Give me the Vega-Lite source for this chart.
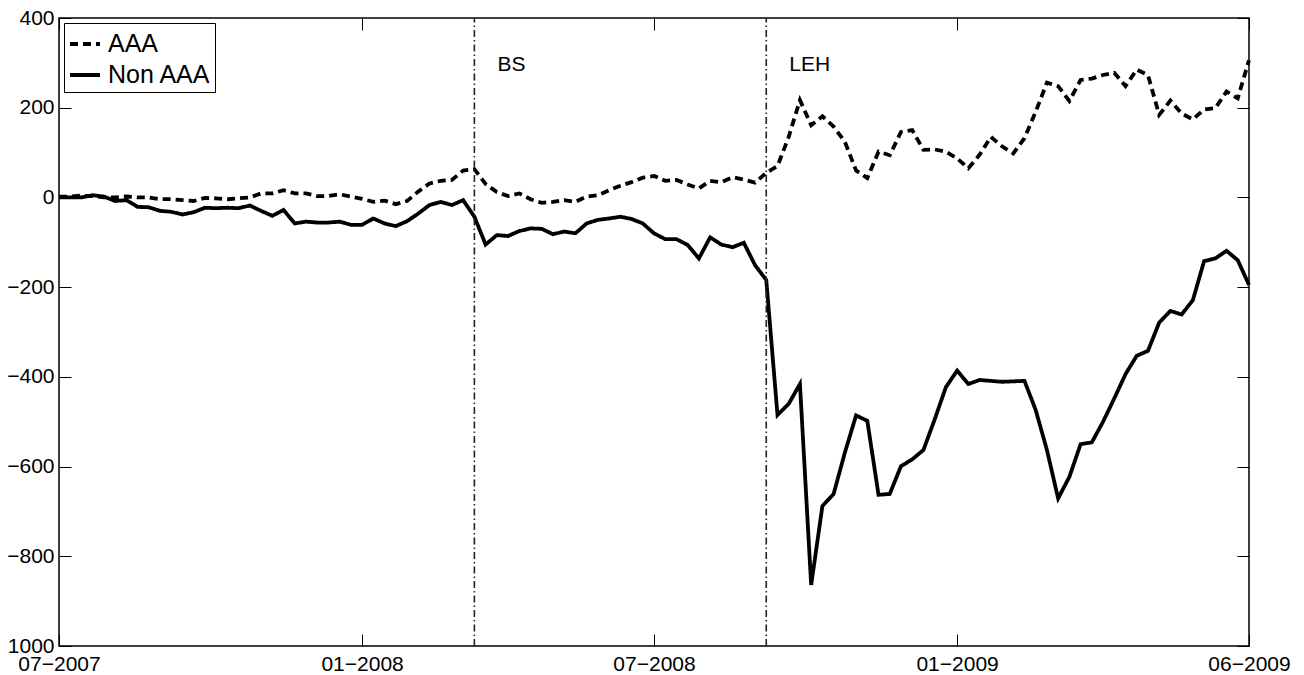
{
  "$schema": "https://vega.github.io/schema/vega-lite/v6.json",
  "width": 1190,
  "height": 628,
  "autosize": {"type": "none"},
  "padding": {"left": 59, "top": 18, "right": 55, "bottom": 29},
  "background": "white",
  "config": {
    "view": {"stroke": "black", "strokeWidth": 1.5},
    "font": "Liberation Sans",
    "axis": {
      "domain": false,
      "grid": false,
      "labelFont": "Liberation Sans",
      "labelFontSize": 21,
      "labelColor": "black",
      "tickColor": "black",
      "tickWidth": 1,
      "tickSize": -12,
      "title": null,
      "labelFlush": false,
      "labelOverlap": false
    },
    "legend": {
      "strokeColor": "black",
      "fillColor": "white",
      "strokeWidth": 1,
      "cornerRadius": 0,
      "padding": 4,
      "labelFont": "Liberation Sans",
      "labelFontSize": 25,
      "labelColor": "black",
      "labelOffset": 6,
      "rowPadding": 1,
      "symbolType": "stroke",
      "symbolSize": 900,
      "symbolStrokeWidth": 3.8,
      "symbolStrokeColor": "black"
    }
  },
  "datasets": {
    "spreads": [
      {"week": 0, "series": "AAA", "value": 2}, {"week": 1, "series": "AAA", "value": 2}, {"week": 2, "series": "AAA", "value": 4}, {"week": 3, "series": "AAA", "value": 3},
      {"week": 4, "series": "AAA", "value": 0}, {"week": 5, "series": "AAA", "value": 0}, {"week": 6, "series": "AAA", "value": 2}, {"week": 7, "series": "AAA", "value": 0},
      {"week": 8, "series": "AAA", "value": 0}, {"week": 9, "series": "AAA", "value": -4}, {"week": 10, "series": "AAA", "value": -4}, {"week": 11, "series": "AAA", "value": -6},
      {"week": 12, "series": "AAA", "value": -8}, {"week": 13, "series": "AAA", "value": -1}, {"week": 14, "series": "AAA", "value": -2}, {"week": 15, "series": "AAA", "value": -4},
      {"week": 16, "series": "AAA", "value": -2}, {"week": 17, "series": "AAA", "value": 0}, {"week": 18, "series": "AAA", "value": 9}, {"week": 19, "series": "AAA", "value": 9},
      {"week": 20, "series": "AAA", "value": 16}, {"week": 21, "series": "AAA", "value": 9}, {"week": 22, "series": "AAA", "value": 9}, {"week": 23, "series": "AAA", "value": 3},
      {"week": 24, "series": "AAA", "value": 3}, {"week": 25, "series": "AAA", "value": 7}, {"week": 26, "series": "AAA", "value": 2}, {"week": 27, "series": "AAA", "value": -3},
      {"week": 28, "series": "AAA", "value": -10}, {"week": 29, "series": "AAA", "value": -7}, {"week": 30, "series": "AAA", "value": -15}, {"week": 31, "series": "AAA", "value": -8},
      {"week": 32, "series": "AAA", "value": 13}, {"week": 33, "series": "AAA", "value": 31}, {"week": 34, "series": "AAA", "value": 37}, {"week": 35, "series": "AAA", "value": 39},
      {"week": 36, "series": "AAA", "value": 60}, {"week": 37, "series": "AAA", "value": 63}, {"week": 38, "series": "AAA", "value": 30}, {"week": 39, "series": "AAA", "value": 12},
      {"week": 40, "series": "AAA", "value": 3}, {"week": 41, "series": "AAA", "value": 9}, {"week": 42, "series": "AAA", "value": -4}, {"week": 43, "series": "AAA", "value": -12},
      {"week": 44, "series": "AAA", "value": -10}, {"week": 45, "series": "AAA", "value": -6}, {"week": 46, "series": "AAA", "value": -10}, {"week": 47, "series": "AAA", "value": 2},
      {"week": 48, "series": "AAA", "value": 5}, {"week": 49, "series": "AAA", "value": 16}, {"week": 50, "series": "AAA", "value": 26}, {"week": 51, "series": "AAA", "value": 34},
      {"week": 52, "series": "AAA", "value": 44}, {"week": 53, "series": "AAA", "value": 48}, {"week": 54, "series": "AAA", "value": 37}, {"week": 55, "series": "AAA", "value": 39},
      {"week": 56, "series": "AAA", "value": 29}, {"week": 57, "series": "AAA", "value": 20}, {"week": 58, "series": "AAA", "value": 37}, {"week": 59, "series": "AAA", "value": 34},
      {"week": 60, "series": "AAA", "value": 45}, {"week": 61, "series": "AAA", "value": 40}, {"week": 62, "series": "AAA", "value": 33}, {"week": 63, "series": "AAA", "value": 55},
      {"week": 64, "series": "AAA", "value": 70}, {"week": 65, "series": "AAA", "value": 135}, {"week": 66, "series": "AAA", "value": 217}, {"week": 67, "series": "AAA", "value": 161},
      {"week": 68, "series": "AAA", "value": 181}, {"week": 69, "series": "AAA", "value": 158}, {"week": 70, "series": "AAA", "value": 124}, {"week": 71, "series": "AAA", "value": 60},
      {"week": 72, "series": "AAA", "value": 43}, {"week": 73, "series": "AAA", "value": 102}, {"week": 74, "series": "AAA", "value": 94}, {"week": 75, "series": "AAA", "value": 146},
      {"week": 76, "series": "AAA", "value": 150}, {"week": 77, "series": "AAA", "value": 106}, {"week": 78, "series": "AAA", "value": 107}, {"week": 79, "series": "AAA", "value": 102},
      {"week": 80, "series": "AAA", "value": 87}, {"week": 81, "series": "AAA", "value": 65}, {"week": 82, "series": "AAA", "value": 95}, {"week": 83, "series": "AAA", "value": 135},
      {"week": 84, "series": "AAA", "value": 114}, {"week": 85, "series": "AAA", "value": 98}, {"week": 86, "series": "AAA", "value": 132}, {"week": 87, "series": "AAA", "value": 191},
      {"week": 88, "series": "AAA", "value": 256}, {"week": 89, "series": "AAA", "value": 248}, {"week": 90, "series": "AAA", "value": 215}, {"week": 91, "series": "AAA", "value": 262},
      {"week": 92, "series": "AAA", "value": 265}, {"week": 93, "series": "AAA", "value": 273}, {"week": 94, "series": "AAA", "value": 278}, {"week": 95, "series": "AAA", "value": 248},
      {"week": 96, "series": "AAA", "value": 285}, {"week": 97, "series": "AAA", "value": 273}, {"week": 98, "series": "AAA", "value": 184}, {"week": 99, "series": "AAA", "value": 216},
      {"week": 100, "series": "AAA", "value": 187}, {"week": 101, "series": "AAA", "value": 174}, {"week": 102, "series": "AAA", "value": 196}, {"week": 103, "series": "AAA", "value": 199},
      {"week": 104, "series": "AAA", "value": 236}, {"week": 105, "series": "AAA", "value": 221}, {"week": 106, "series": "AAA", "value": 306},

      {"week": 0, "series": "Non AAA", "value": 0}, {"week": 1, "series": "Non AAA", "value": 0}, {"week": 2, "series": "Non AAA", "value": 0}, {"week": 3, "series": "Non AAA", "value": 5},
      {"week": 4, "series": "Non AAA", "value": 2}, {"week": 5, "series": "Non AAA", "value": -8}, {"week": 6, "series": "Non AAA", "value": -6}, {"week": 7, "series": "Non AAA", "value": -21},
      {"week": 8, "series": "Non AAA", "value": -22}, {"week": 9, "series": "Non AAA", "value": -30}, {"week": 10, "series": "Non AAA", "value": -32}, {"week": 11, "series": "Non AAA", "value": -38},
      {"week": 12, "series": "Non AAA", "value": -33}, {"week": 13, "series": "Non AAA", "value": -23}, {"week": 14, "series": "Non AAA", "value": -24}, {"week": 15, "series": "Non AAA", "value": -23},
      {"week": 16, "series": "Non AAA", "value": -24}, {"week": 17, "series": "Non AAA", "value": -18}, {"week": 18, "series": "Non AAA", "value": -30}, {"week": 19, "series": "Non AAA", "value": -41},
      {"week": 20, "series": "Non AAA", "value": -28}, {"week": 21, "series": "Non AAA", "value": -58}, {"week": 22, "series": "Non AAA", "value": -54}, {"week": 23, "series": "Non AAA", "value": -56},
      {"week": 24, "series": "Non AAA", "value": -56}, {"week": 25, "series": "Non AAA", "value": -54}, {"week": 26, "series": "Non AAA", "value": -61}, {"week": 27, "series": "Non AAA", "value": -61},
      {"week": 28, "series": "Non AAA", "value": -47}, {"week": 29, "series": "Non AAA", "value": -58}, {"week": 30, "series": "Non AAA", "value": -64}, {"week": 31, "series": "Non AAA", "value": -53},
      {"week": 32, "series": "Non AAA", "value": -36}, {"week": 33, "series": "Non AAA", "value": -17}, {"week": 34, "series": "Non AAA", "value": -10}, {"week": 35, "series": "Non AAA", "value": -17},
      {"week": 36, "series": "Non AAA", "value": -6}, {"week": 37, "series": "Non AAA", "value": -43}, {"week": 38, "series": "Non AAA", "value": -105}, {"week": 39, "series": "Non AAA", "value": -84},
      {"week": 40, "series": "Non AAA", "value": -86}, {"week": 41, "series": "Non AAA", "value": -75}, {"week": 42, "series": "Non AAA", "value": -69}, {"week": 43, "series": "Non AAA", "value": -70},
      {"week": 44, "series": "Non AAA", "value": -82}, {"week": 45, "series": "Non AAA", "value": -76}, {"week": 46, "series": "Non AAA", "value": -80}, {"week": 47, "series": "Non AAA", "value": -58},
      {"week": 48, "series": "Non AAA", "value": -50}, {"week": 49, "series": "Non AAA", "value": -47}, {"week": 50, "series": "Non AAA", "value": -43}, {"week": 51, "series": "Non AAA", "value": -48},
      {"week": 52, "series": "Non AAA", "value": -58}, {"week": 53, "series": "Non AAA", "value": -80}, {"week": 54, "series": "Non AAA", "value": -93}, {"week": 55, "series": "Non AAA", "value": -93},
      {"week": 56, "series": "Non AAA", "value": -106}, {"week": 57, "series": "Non AAA", "value": -136}, {"week": 58, "series": "Non AAA", "value": -89}, {"week": 59, "series": "Non AAA", "value": -105},
      {"week": 60, "series": "Non AAA", "value": -111}, {"week": 61, "series": "Non AAA", "value": -101}, {"week": 62, "series": "Non AAA", "value": -151}, {"week": 63, "series": "Non AAA", "value": -184},
      {"week": 64, "series": "Non AAA", "value": -485}, {"week": 65, "series": "Non AAA", "value": -460}, {"week": 66, "series": "Non AAA", "value": -416}, {"week": 67, "series": "Non AAA", "value": -864},
      {"week": 68, "series": "Non AAA", "value": -688}, {"week": 69, "series": "Non AAA", "value": -661}, {"week": 70, "series": "Non AAA", "value": -569}, {"week": 71, "series": "Non AAA", "value": -486},
      {"week": 72, "series": "Non AAA", "value": -498}, {"week": 73, "series": "Non AAA", "value": -663}, {"week": 74, "series": "Non AAA", "value": -661}, {"week": 75, "series": "Non AAA", "value": -599},
      {"week": 76, "series": "Non AAA", "value": -584}, {"week": 77, "series": "Non AAA", "value": -563}, {"week": 78, "series": "Non AAA", "value": -495}, {"week": 79, "series": "Non AAA", "value": -423},
      {"week": 80, "series": "Non AAA", "value": -386}, {"week": 81, "series": "Non AAA", "value": -416}, {"week": 82, "series": "Non AAA", "value": -407}, {"week": 83, "series": "Non AAA", "value": -409},
      {"week": 84, "series": "Non AAA", "value": -411}, {"week": 85, "series": "Non AAA", "value": -410}, {"week": 86, "series": "Non AAA", "value": -409}, {"week": 87, "series": "Non AAA", "value": -474},
      {"week": 88, "series": "Non AAA", "value": -563}, {"week": 89, "series": "Non AAA", "value": -671}, {"week": 90, "series": "Non AAA", "value": -623}, {"week": 91, "series": "Non AAA", "value": -550},
      {"week": 92, "series": "Non AAA", "value": -546}, {"week": 93, "series": "Non AAA", "value": -500}, {"week": 94, "series": "Non AAA", "value": -448}, {"week": 95, "series": "Non AAA", "value": -394},
      {"week": 96, "series": "Non AAA", "value": -353}, {"week": 97, "series": "Non AAA", "value": -342}, {"week": 98, "series": "Non AAA", "value": -279}, {"week": 99, "series": "Non AAA", "value": -253},
      {"week": 100, "series": "Non AAA", "value": -261}, {"week": 101, "series": "Non AAA", "value": -229}, {"week": 102, "series": "Non AAA", "value": -142}, {"week": 103, "series": "Non AAA", "value": -136},
      {"week": 104, "series": "Non AAA", "value": -119}, {"week": 105, "series": "Non AAA", "value": -140}, {"week": 106, "series": "Non AAA", "value": -195}
    ],
    "events": [
      {"week": 37, "label": "BS"},
      {"week": 63, "label": "LEH"}
    ]
  },
  "resolve": {"axis": {"x": "independent", "y": "independent"}},
  "layer": [
    {
      "data": {"name": "spreads"},
      "mark": {"type": "line", "color": "black", "strokeWidth": 3.8, "strokeCap": "butt", "strokeJoin": "miter"},
      "encoding": {
        "x": {
          "field": "week", "type": "quantitative",
          "scale": {"domain": [0, 106], "nice": false, "zero": false},
          "axis": {
            "orient": "bottom",
            "values": [0, 27, 53, 80, 106],
            "labelPadding": 19,
            "labelExpr": "datum.value == 0 ? '07−2007' : datum.value == 27 ? '01−2008' : datum.value == 53 ? '07−2008' : datum.value == 80 ? '01−2009' : '06−2009'"
          }
        },
        "y": {
          "field": "value", "type": "quantitative",
          "scale": {"domain": [-1000, 400], "nice": false},
          "axis": {
            "orient": "left",
            "values": [-1000, -800, -600, -400, -200, 0, 200, 400],
            "labelPadding": 17,
            "labelExpr": "datum.value == -1000 ? '1000' : format(datum.value, 'd')"
          }
        },
        "strokeDash": {
          "field": "series", "type": "nominal",
          "scale": {"domain": ["AAA", "Non AAA"], "range": [[8, 5], [1, 0]]},
          "legend": {"title": null, "orient": "none", "legendX": 5, "legendY": 5}
        }
      }
    },
    {
      "data": {"name": "events"},
      "mark": {"type": "rule", "color": "#222222", "strokeWidth": 1.6, "strokeDash": [7, 3, 1.5, 3]},
      "encoding": {
        "x": {
          "field": "week", "type": "quantitative",
          "axis": {"orient": "top", "values": [0, 27, 53, 80, 106], "labels": false}
        },
        "y": {
          "datum": -1000, "type": "quantitative",
          "axis": {"orient": "right", "values": [-1000, -800, -600, -400, -200, 0, 200, 400], "labels": false}
        },
        "y2": {"datum": 400}
      }
    },
    {
      "data": {"name": "events"},
      "mark": {"type": "text", "color": "black", "font": "Liberation Sans", "fontSize": 21, "align": "left", "baseline": "middle", "dx": 23, "dy": 2},
      "encoding": {
        "x": {"field": "week", "type": "quantitative", "axis": null},
        "y": {"datum": 300, "type": "quantitative", "axis": null},
        "text": {"field": "label"}
      }
    }
  ]
}
